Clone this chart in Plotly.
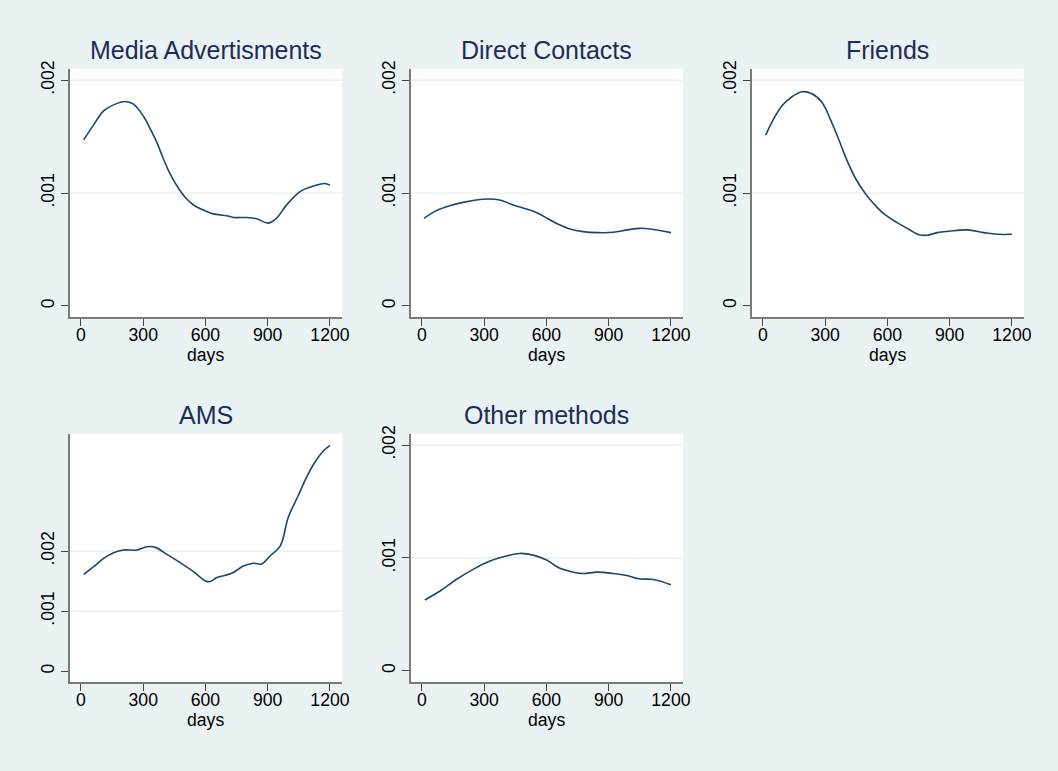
import plotly.graph_objects as go

# ---------------- data ----------------
media_days = [13, 61, 109, 157, 213, 253, 302, 333, 365, 397, 429, 469, 501, 541, 606, 638, 703, 735, 799, 847, 903, 943, 991, 1056, 1104, 1152, 1176, 1200]
media_vals = [0.001471, 0.001604, 0.001728, 0.001781, 0.001811, 0.001787, 0.001678, 0.001571, 0.001451, 0.001304, 0.001171,
              0.001044, 0.000965, 0.000896, 0.000836, 0.000815, 0.000798, 0.000783, 0.000783, 0.000771, 0.000733, 0.000777,
              0.000895, 0.001013, 0.001052, 0.001078, 0.001084, 0.001072]

direct_days = [10, 69, 134, 198, 262, 319, 375, 440, 504, 560, 609, 657, 714, 778, 843, 923, 987, 1052, 1100, 1200]
direct_vals = [0.000776, 0.000844, 0.000888, 0.000917, 0.000938, 0.000947, 0.000938, 0.000894, 0.000858, 0.000820,
               0.000770, 0.000723, 0.000681, 0.000658, 0.000649, 0.000652, 0.000673, 0.000687, 0.000681, 0.000649]

friends_days = [13, 51, 92, 140, 188, 236, 285, 324, 364, 405, 445, 494, 534, 582, 647, 711, 752, 792, 840, 897, 984, 1065, 1129, 1200]
friends_vals = [0.001513, 0.001655, 0.001773, 0.001853, 0.001897, 0.001879, 0.001802, 0.001657, 0.001481, 0.001289,
                0.001133, 0.000994, 0.000905, 0.000817, 0.000737, 0.000670, 0.000631, 0.000626, 0.000649, 0.000661,
                0.000673, 0.000649, 0.000634, 0.000634]

ams_days = [13, 61, 109, 157, 205, 270, 318, 358, 414, 478, 542, 599, 623, 655, 727, 783, 831, 871, 911, 960, 1000, 1048, 1088, 1128, 1168, 1200]
ams_vals = [0.001613, 0.001740, 0.001878, 0.001972, 0.002017, 0.002017, 0.002072, 0.002061, 0.001945, 0.001807,
            0.001657, 0.001503, 0.001492, 0.001558, 0.001630, 0.001751, 0.001796, 0.001785, 0.001917, 0.002083,
            0.002569, 0.002928, 0.003232, 0.003481, 0.003663, 0.003757]

other_days = [14, 87, 167, 247, 328, 392, 472, 536, 601, 657, 730, 778, 843, 923, 987, 1044, 1116, 1200]
other_vals = [0.000628, 0.000707, 0.000811, 0.000899, 0.000972, 0.001010, 0.001040, 0.001025, 0.000981, 0.000915,
              0.000874, 0.000862, 0.000874, 0.000862, 0.000844, 0.000815, 0.000809, 0.000762]

titles = ["Media Advertisments", "Direct Contacts", "Friends", "AMS", "Other methods"]
x_ticks = [0, 300, 600, 900, 1200]
y_ticks = [0, 0.001, 0.002]
y_ticktext = ["0", ".001", ".002"]
grid_vals = [0.001, 0.002]
x_title = "days"

# ---------------- style / layout ----------------
W, H = 1058, 771
BG = "#EAF2F3"
GRID = "#E3EDEF"
LINE = "#1A476F"
TITLE_COL = "#1E2C57"
FONT = "Liberation Sans, Arial, Helvetica, sans-serif"

# the photographed page is shrunk slightly (~0.9925) and shifted down ~6px;
# positions below are given in target-picture pixels and compensated here
S, OFF = 0.9925, 6.0
def px(v):
    return v / S
def py(v):
    return v / S - OFF
def fs(v):
    return v / S

col_left = [70, 411, 752]
row_top = [67, 433]
pw, ph = 272, 249

series = [
    (media_days, media_vals, 0, 0, [-0.0001, 0.0021]),
    (direct_days, direct_vals, 0, 1, [-0.0001, 0.0021]),
    (friends_days, friends_vals, 0, 2, [-0.0001, 0.0021]),
    (ams_days, ams_vals, 1, 0, [-0.00018, 0.00395]),
    (other_days, other_vals, 1, 1, [-0.0001, 0.0021]),
]

fig = go.Figure()
layout = dict(
    width=W, height=H,
    paper_bgcolor=BG, plot_bgcolor="white",
    margin=dict(l=0, r=0, t=0, b=0),
    showlegend=False,
    font=dict(family=FONT, color="black", size=16),
)
annotations = []
shapes = []

for i, (xs, ys, r, c, yr) in enumerate(series):
    n = i + 1
    xa = "xaxis" if n == 1 else f"xaxis{n}"
    ya = "yaxis" if n == 1 else f"yaxis{n}"
    xref = "x" if n == 1 else f"x{n}"
    yref = "y" if n == 1 else f"y{n}"
    left = col_left[c]
    top = row_top[r]
    x0, x1 = px(left) / W, px(left + pw) / W
    y1, y0 = 1 - py(top) / H, 1 - py(top + ph) / H

    fig.add_trace(go.Scatter(x=xs, y=ys, mode="lines",
                             line=dict(color=LINE, width=1.6, shape="spline", smoothing=1.0),
                             xaxis=xref, yaxis=yref, hoverinfo="skip"))

    layout[xa] = dict(domain=[x0, x1], anchor=yref, range=[-53, 1258],
                      tickvals=x_ticks, ticks="outside", ticklen=7, tickcolor="#444", tickwidth=1,
                      ticklabelstandoff=-6,
                      showline=True, linecolor="#7a7a7a", linewidth=1.6,
                      showgrid=False, zeroline=False,
                      tickfont=dict(size=fs(17.5), color="black", family=FONT))
    layout[ya] = dict(domain=[y0, y1], anchor=xref, range=yr,
                      tickvals=y_ticks, ticktext=y_ticktext, tickangle=-90,
                      ticks="outside", ticklen=7, tickcolor="#444", tickwidth=1,
                      showline=True, linecolor="#7a7a7a", linewidth=1.6,
                      showgrid=False, zeroline=False,
                      tickfont=dict(size=fs(17.5), color="black", family=FONT))

    for g in grid_vals:
        shapes.append(dict(type="line", xref=f"{xref} domain", yref=yref,
                           x0=0, x1=1, y0=g, y1=g,
                           line=dict(color=GRID, width=1.2), layer="below"))

    annotations.append(dict(text=titles[i], xref="paper", yref="paper",
                            x=(x0 + x1) / 2, y=1 - py(top - 19) / H,
                            xanchor="center", yanchor="middle", showarrow=False,
                            font=dict(size=fs(24.8), color=TITLE_COL, family=FONT)))
    annotations.append(dict(text=x_title, xref="paper", yref="paper",
                            x=(x0 + x1) / 2, y=1 - py(top + 287) / H,
                            xanchor="center", yanchor="middle", showarrow=False,
                            font=dict(size=fs(17.5), color="black", family=FONT)))

layout["annotations"] = annotations
layout["shapes"] = shapes
fig.update_layout(**layout)

page_fix = (
    "document.documentElement.style.background='" + BG + "';"
    "var b=document.body.style;b.margin='0';b.padding='0';b.overflow='hidden';b.background='" + BG + "';"
)
fig.write_html("out.html", config={"displayModeBar": False}, post_script=page_fix)
